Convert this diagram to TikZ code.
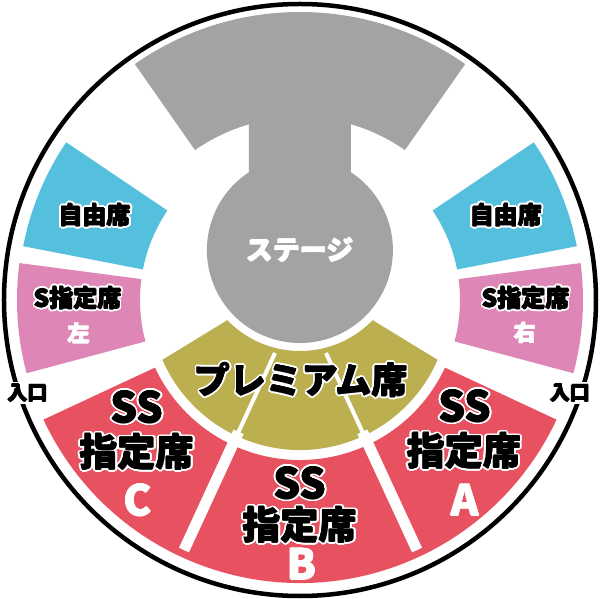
\documentclass[tikz,border=0pt]{standalone}
\usepackage{fontspec}
\newfontfamily\jp{Noto Sans CJK JP}
\usepackage{contour}
\contourlength{1.8pt}
\contournumber{12}
\usetikzlibrary{calc}
\definecolor{stagegray}{RGB}{163,163,163}
\definecolor{seatblue}{RGB}{85,192,222}
\definecolor{seatpink}{RGB}{222,134,182}
\definecolor{seatolive}{RGB}{187,175,80}
\definecolor{seatred}{RGB}{232,81,96}
% thicken in the current colour (shifted copies)
\newcommand{\thk}[1]{\leavevmode\rlap{\kern0.45pt #1}\rlap{\kern-0.45pt #1}\rlap{\raisebox{0.45pt}{#1}}\rlap{\raisebox{-0.45pt}{#1}}#1}
% thickened black text with a white outline
\newcommand{\wo}[1]{\contour{white}{\thk{#1}}}
\newcommand{\fsz}[1]{\fontsize{#1}{#1}\selectfont}
\newcommand{\ringsector}[5]{\fill[#1] (#2:#4pt) arc[start angle=#2,end angle=#3,radius=#4pt] -- (#3:#5pt) arc[start angle=#3,end angle=#2,radius=#5pt] -- cycle;}
\tikzset{
  lbl/.style={inner sep=0pt, text=black, font=\jp\bfseries},
  wlbl/.style={inner sep=0pt, text=white, font=\jp\bfseries},
  divthin/.style={white, line width=4pt},
  divwide/.style={white, line width=11pt},
  entr/.style={inner sep=2pt, fill=white, text=black, font=\jp\bfseries\fsz{20}},
}
\begin{document}
\begin{tikzpicture}[x=1pt,y=1pt]
\useasboundingbox (-300,-299) rectangle (300,300);
\fill[white] (-300,-299) rectangle (300,300);
% stage
\fill[stagegray] (55:288pt) arc[start angle=55,end angle=125,radius=288pt] -- (125:183pt) arc[start angle=125,end angle=106.2,radius=183pt] -- (-51,127.8) arc[start angle=123.2,end angle=416.8,radius=93pt] -- (51,175.75) arc[start angle=73.8,end angle=55,radius=183pt] -- cycle;
% side blocks
\ringsector{seatblue}{146}{169}{282}{160}
\ringsector{seatblue}{11}{34}{282}{160}
\ringsector{seatpink}{172.5}{195}{283}{160}
\ringsector{seatpink}{-15}{7.5}{283}{160}
% SS ring
\ringsector{seatred}{205}{335}{283}{160}
% premium
\fill[seatolive] (203.5:150pt) -- ($(0,50)+(224:101pt)$) arc[start angle=224,end angle=316,radius=101pt] -- (336.5:150pt) arc[start angle=336.5,end angle=203.5,radius=150pt] -- cycle;
% dividers
\coordinate (pl) at (-25,-53);
\coordinate (ql) at (-116,-250);
\coordinate (pr) at (26,-53);
\coordinate (qr) at (117,-250);
\draw[divthin] (pl) -- (ql);
\draw[divwide] ($(pl)!0.40!(ql)$) -- (ql);
\draw[divthin] (pr) -- (qr);
\draw[divwide] ($(pr)!0.40!(qr)$) -- (qr);
% outer circle
\draw[line width=4.5pt] (0,0) circle[radius=296pt];
% labels
\node[wlbl, font=\jp\bfseries\fsz{27}] (stage) at (0,50) {\thk{ステージ}};
\node[lbl, font=\jp\bfseries\fsz{24}] (jl) at (-205,84) {\wo{自由席}};
\node[lbl, font=\jp\bfseries\fsz{24}] (jr) at (206,84) {\wo{自由席}};
\node[lbl, font=\jp\bfseries\fsz{24}] (sl) at (-222,1) {\wo{S指定席}};
\node[wlbl, font=\jp\bfseries\fsz{22}] (slb) at (-221,-33) {\thk{左}};
\node[lbl, font=\jp\bfseries\fsz{24}] (sr) at (226,1) {\wo{S指定席}};
\node[wlbl, font=\jp\bfseries\fsz{22}] (srb) at (225,-33) {\thk{右}};
\node[lbl, font=\jp\bfseries\fsz{36}] (prem) at (1,-81) {\wo{プレミアム席}};
\node[lbl, font=\jp\bfseries\fsz{42}] (ssc1) at (-163,-108) {\wo{SS}};
\node[lbl, font=\jp\bfseries\fsz{38}] (ssc2) at (-163,-153) {\wo{指定席}};
\node[wlbl, font=\jp\bfseries\fsz{42}] (ssc3) at (-162,-200) {\thk{C}};
\node[lbl, font=\jp\bfseries\fsz{42}] (ssb1) at (0,-184) {\wo{SS}};
\node[lbl, font=\jp\bfseries\fsz{38}] (ssb2) at (0,-226) {\wo{指定席}};
\node[wlbl, font=\jp\bfseries\fsz{42}] (ssb3) at (2,-264) {\thk{B}};
\node[lbl, font=\jp\bfseries\fsz{42}] (ssa1) at (165,-107) {\wo{SS}};
\node[lbl, font=\jp\bfseries\fsz{38}] (ssa2) at (164,-152) {\wo{指定席}};
\node[wlbl, font=\jp\bfseries\fsz{42}] (ssa3) at (165,-200) {\thk{A}};
\node[entr] (inl) at (-272,-93) {\thk{入口}};
\node[entr] (inr) at (270,-93) {\thk{入口}};
\end{tikzpicture}
\end{document}
